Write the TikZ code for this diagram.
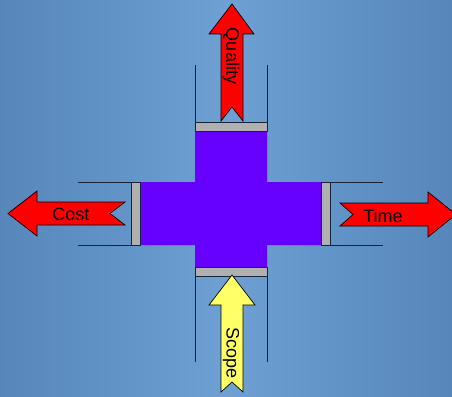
\documentclass[tikz,border=0pt]{standalone}
\usepackage{fontspec}
\setmainfont{Liberation Sans}
\definecolor{bgedge}{RGB}{86,134,186}
\definecolor{bgmid}{RGB}{110,160,212}
\definecolor{crosspurple}{RGB}{102,0,255}
\definecolor{plategray}{RGB}{176,176,176}
\definecolor{linedark}{RGB}{25,35,55}
\definecolor{scopeyellow}{RGB}{255,255,102}
\begin{document}
\begin{tikzpicture}[x=1pt,y=-1pt,
  arrowshape/.style={draw=black, line width=0.7pt, line join=miter},
  plate/.style={draw=linedark, fill=plategray, line width=0.7pt},
  guide/.style={draw=linedark, line width=0.8pt},
  lbl/.style={font=\fontsize{18}{18}\selectfont, inner sep=0pt}]
\useasboundingbox (0,0) rectangle (452,396);
\begin{scope}
\clip (0,0) rectangle (452,396);
\shade[left color=bgedge, right color=bgedge, middle color=bgmid] (0,0) rectangle (452,396);
% guide lines
\draw[guide] (195,65) -- (195,122);
\draw[guide] (267,65) -- (267,122);
\draw[guide] (195,276) -- (195,362);
\draw[guide] (267,276) -- (267,362);
\draw[guide] (78,182) -- (131,182);
\draw[guide] (78,245) -- (131,245);
\draw[guide] (330,182) -- (383,182);
\draw[guide] (330,245) -- (383,245);
% cross
\fill[crosspurple] (195,131) -- (267,131) -- (267,182) -- (321,182) -- (321,245) -- (267,245) -- (267,267) -- (195,267) -- (195,245) -- (140,245) -- (140,182) -- (195,182) -- cycle;
% plates
\draw[plate] (195,122) rectangle (267,131);
\draw[plate] (195,267) rectangle (267,276);
\draw[plate] (131,182) rectangle (140,245);
\draw[plate] (321,182) rectangle (330,245);
% arrows
\draw[arrowshape, fill=red] (221,121) -- (221,34) -- (209,34) -- (232,4) -- (254,34) -- (243,34) -- (243,121) -- (232,107) -- cycle;
\draw[arrowshape, fill=red] (125,202) -- (37,202) -- (37,191) -- (8,213.5) -- (37,236) -- (37,225) -- (125,225) -- (110,213.5) -- cycle;
\draw[arrowshape, fill=red] (340,203) -- (428,203) -- (428,192) -- (456,214.5) -- (428,237) -- (428,226) -- (340,226) -- (353,214.5) -- cycle;
\draw[arrowshape, fill=scopeyellow] (221,392) -- (221,305) -- (209,305) -- (232,275) -- (255,305) -- (243,305) -- (243,392) -- (232,382) -- cycle;
\end{scope}
% labels
\node[lbl, rotate=-90] (quality) at (231,56) {Quality};
\node[lbl, rotate=-90] (scope) at (231,353) {Scope};
\node[lbl] (cost) at (71,214) {Cost};
\node[lbl] (time) at (383,216) {Time};
\end{tikzpicture}
\end{document}
